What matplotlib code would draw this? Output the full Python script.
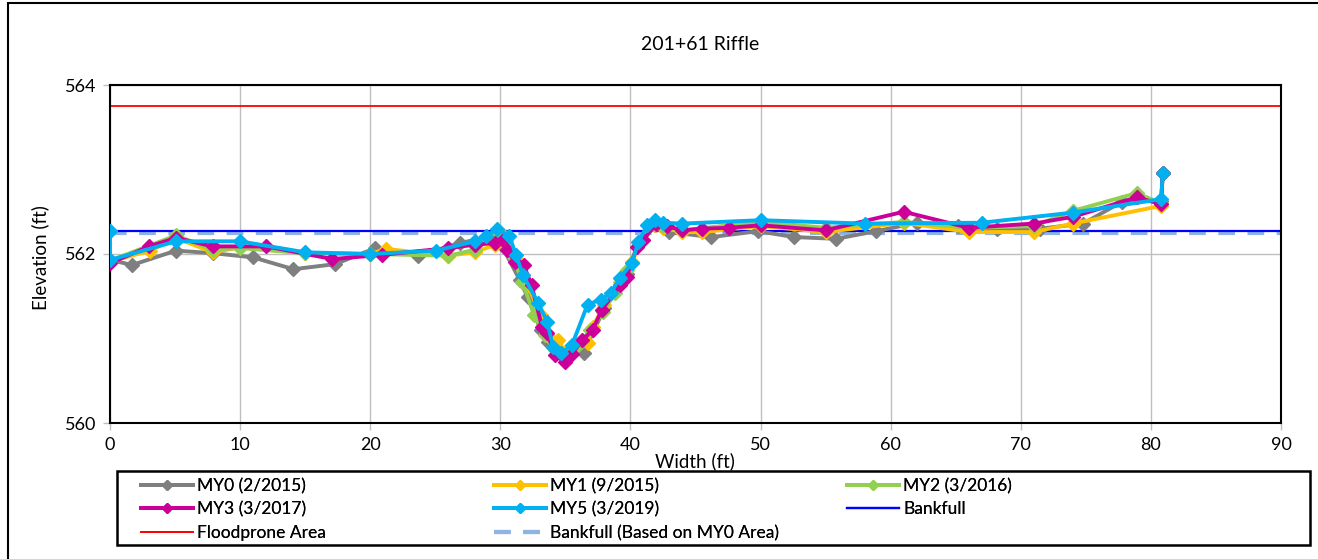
import matplotlib
matplotlib.use("Agg")
import matplotlib.pyplot as plt
from matplotlib.patches import Rectangle

plt.rcParams['font.family'] = ['Lato', 'DejaVu Sans']

# MY0 (2/2015)
my0_x = [0, 1.7, 5.07, 7.9, 11.0, 14.1, 17.3, 20.4, 23.7, 26.9, 29.4, 30.0, 31.5, 32.1,
         33.1, 33.7, 34.6, 36.4, 38.0, 39.7, 40.7, 41.9, 43.0, 46.2, 49.8, 52.6, 55.8,
         58.9, 62.0, 65.2, 68.2, 71.5, 74.8, 77.8, 80.8, 80.9]
my0_y = [561.93, 561.87, 562.04, 562.01, 561.96, 561.82, 561.88, 562.07, 561.98, 562.13,
         562.21, 562.13, 561.69, 561.49, 561.10, 560.96, 560.84, 560.83, 561.36, 561.76,
         562.14, 562.34, 562.26, 562.20, 562.27, 562.20, 562.18, 562.27, 562.37, 562.33,
         562.30, 562.30, 562.36, 562.62, 562.63, 562.96]

# MY1 (9/2015)
my1_x = [0, 3.1, 5.07, 7.9, 10.0, 15.0, 20.0, 21.2, 26.0, 28.05, 29.6, 30.4, 31.1, 32.1,
         33.1, 33.8, 34.4, 35.0, 35.7, 36.7, 37.1, 38.0, 39.2, 40.1, 41.0, 41.9, 42.5,
         44.0, 45.5, 50.0, 55.0, 61.0, 66.0, 71.0, 74.0, 80.8, 80.9]
my1_y = [561.91, 562.04, 562.19, 562.02, 562.08, 562.01, 562.00, 562.06, 561.98, 562.02,
         562.11, 562.17, 561.95, 561.63, 561.28, 561.01, 560.98, 560.84, 560.91, 560.95,
         561.14, 561.40, 561.67, 561.91, 562.17, 562.34, 562.31, 562.26, 562.26, 562.33,
         562.26, 562.37, 562.26, 562.26, 562.36, 562.57, 562.96]

# MY2 (3/2016)
my2_x = [0, 0, 5.07, 7.9, 10.0, 15.0, 20.0, 26.0, 28.05, 29.6, 30.2, 30.9, 31.7, 32.6,
         33.4, 34.2, 35.0, 36.0, 36.9, 37.9, 38.8, 39.7, 40.7, 41.7, 42.5, 44.0, 50.0,
         55.0, 61.0, 66.0, 71.0, 74.0, 78.9, 80.8, 80.9]
my2_y = [562.27, 561.92, 562.22, 562.05, 562.07, 562.01, 562.00, 561.98, 562.05, 562.22,
         562.22, 561.99, 561.67, 561.28, 561.04, 560.86, 560.78, 560.92, 561.10, 561.31,
         561.54, 561.81, 562.14, 562.36, 562.33, 562.28, 562.38, 562.31, 562.38, 562.31,
         562.33, 562.51, 562.72, 562.60, 562.96]

# MY3 (3/2017)
my3_x = [0, 3.0, 5.07, 7.9, 12.0, 17.1, 20.9, 26.0, 28.05, 29.6, 30.2, 30.5, 31.1, 31.8,
         32.4, 33.2, 33.6, 34.2, 35.0, 35.5, 36.3, 37.1, 37.8, 39.2, 39.7, 40.5, 41.0,
         42.0, 42.8, 44.0, 45.5, 47.6, 50.0, 55.0, 61.0, 66.0, 71.0, 74.0, 78.9, 80.8, 80.9]
my3_y = [561.89, 562.09, 562.19, 562.09, 562.09, 561.94, 561.99, 562.07, 562.11, 562.13,
         562.17, 562.05, 561.91, 561.87, 561.63, 561.14, 561.07, 560.80, 560.72, 560.82,
         560.98, 561.10, 561.34, 561.63, 561.73, 562.08, 562.17, 562.36, 562.33, 562.28,
         562.30, 562.31, 562.34, 562.28, 562.50, 562.31, 562.36, 562.44, 562.67, 562.59,
         562.96]

# MY5 (3/2019)
my5_x = [0, 0, 5.07, 10.0, 15.0, 20.0, 25.06, 28.05, 28.9, 29.75, 30.7, 31.2, 31.75, 32.9,
         33.6, 34.05, 34.7, 35.5, 36.7, 37.7, 38.5, 39.2, 40.1, 40.6, 41.3, 41.9, 42.5,
         44.0, 50.0, 58.0, 67.0, 74.0, 80.8, 80.9]
my5_y = [562.27, 561.93, 562.15, 562.15, 562.02, 562.00, 562.04, 562.15, 562.21, 562.30,
         562.21, 561.99, 561.75, 561.42, 561.20, 560.90, 560.83, 560.92, 561.40, 561.46,
         561.54, 561.72, 561.89, 562.14, 562.34, 562.40, 562.37, 562.36, 562.40, 562.36,
         562.37, 562.49, 562.65, 562.96]

floodprone = 563.75
bankfull = 562.27
bankfull_my0 = 562.25

fig = plt.figure(figsize=(13.18, 5.59), dpi=100)
ax = fig.add_axes([110/1318, 1 - 423/559, (1281 - 110)/1318, (423 - 85)/559])

# cadre exterieur du graphique
fig.patches.append(Rectangle((8/1318, -0.1), 1.2, 1.1 - 3/559, transform=fig.transFigure,
                             fill=False, edgecolor='black', linewidth=1.5))

ax.plot([0, 90], [bankfull_my0, bankfull_my0], color='#8EB4E3', linewidth=3,
        dashes=(4, 3), label='Bankfull (Based on MY0 Area)', zorder=2)
ax.plot([0, 90], [bankfull, bankfull], color='#0000FF', linewidth=1.6, label='Bankfull', zorder=2.5)
ax.plot([0, 90], [floodprone, floodprone], color='#FF0000', linewidth=1.3,
        label='Floodprone Area', zorder=2.5)

series = [
    (my0_x, my0_y, '#7F7F7F', 'MY0 (2/2015)'),
    (my1_x, my1_y, '#FFC000', 'MY1 (9/2015)'),
    (my2_x, my2_y, '#92D050', 'MY2 (3/2016)'),
    (my3_x, my3_y, '#CC0099', 'MY3 (3/2017)'),
    (my5_x, my5_y, '#00B0F0', 'MY5 (3/2019)'),
]
for i, (xs, ys, c, lab) in enumerate(series):
    ax.plot(xs, ys, color=c, linewidth=2.8, marker='D', markersize=7,
            label=lab, zorder=3 + i)

ax.set_xlim(0, 90)
ax.set_ylim(560, 564)
ax.set_xticks(range(0, 91, 10))
ax.set_yticks([560, 562, 564])
ax.grid(True, color='#BFBFBF', linewidth=1)
ax.set_axisbelow(True)
for s in ax.spines.values():
    s.set_linewidth(1.5)
ax.tick_params(axis='both', labelsize=13, length=5, color='#BFBFBF', width=1, pad=5)

fig.text(700/1318, 1 - 45/559, '201+61 Riffle', ha='center', va='center', fontsize=14)
fig.text(40/1318, 1 - 258/559, 'Elevation (ft)', ha='center', va='center', rotation=90,
         fontsize=13.5)
fig.text(695/1318, 1 - 461/559, 'Width (ft)', ha='center', va='center', fontsize=13.5)

# legende : cadre + trois colonnes placees a la main
fig.patches.append(Rectangle((117/1318, 1 - 545/559), (1310 - 117)/1318, 74/559,
                             transform=fig.transFigure, fill=False, edgecolor='black',
                             linewidth=1.8))
handles, labels = ax.get_legend_handles_labels()
hmap = dict(zip(labels, handles))
columns = [
    (141, ['MY0 (2/2015)', 'MY3 (3/2017)', 'Floodprone Area']),
    (494, ['MY1 (9/2015)', 'MY5 (3/2019)', 'Bankfull (Based on MY0 Area)']),
    (847, ['MY2 (3/2016)', 'Bankfull']),
]
for x0, labs in columns:
    leg = fig.legend([hmap[k] for k in labs], labs, loc='upper left',
                     bbox_to_anchor=(x0/1318, 1 - 478/559), fontsize=12.5,
                     frameon=False, handlelength=3.0, markerscale=0.7,
                     borderaxespad=0, borderpad=0, labelspacing=0.42,
                     handletextpad=0.25)
    fig.add_artist(leg)

fig.savefig('out.png', dpi=100)
